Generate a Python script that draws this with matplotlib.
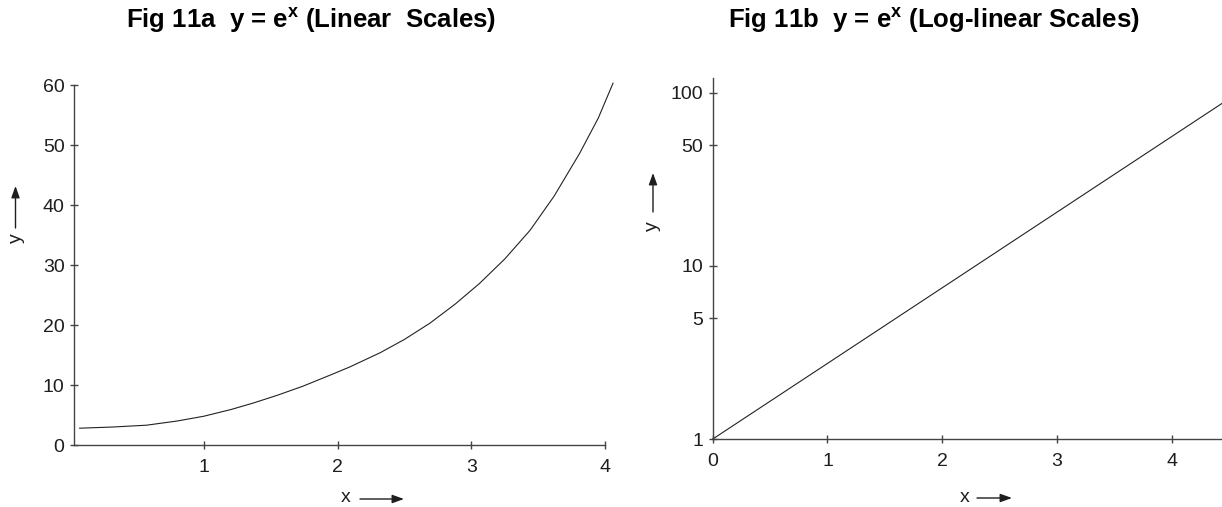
import matplotlib
matplotlib.use("Agg")
import matplotlib.pyplot as plt
from matplotlib.ticker import NullLocator

# ---- data ----
curve_x = [0.07, 0.32, 0.57, 0.80, 1.0, 1.2, 1.37, 1.55, 1.74, 1.95, 2.09, 2.32,
           2.50, 2.69, 2.88, 3.06, 3.25, 3.44, 3.62, 3.81, 3.95, 4.06]
curve_y = [2.8, 3.0, 3.3, 4.0, 4.8, 5.9, 7.0, 8.3, 9.8, 11.7, 13.0, 15.4,
           17.6, 20.3, 23.5, 26.9, 31.0, 35.8, 41.5, 48.6, 54.5, 60.3]

line_x = [0.0, 4.44]
line_y = [1.0, 87.0]

left_xticks = [1, 2, 3, 4]
left_yticks = [0, 10, 20, 30, 40, 50, 60]
right_xticks = [0, 1, 2, 3, 4]
right_yticks = [1, 5, 10, 50, 100]
right_ytick_labels = ["1", "5", "10", "50", "100"]

title_a = r"Fig 11a  y = $\mathbf{e^{x}}$ (Linear  Scales)"
title_b = r"Fig 11b  y = $\mathbf{e^{x}}$ (Log-linear Scales)"

# ---- style ----
plt.rcParams["font.family"] = ["Liberation Sans", "DejaVu Sans"]
plt.rcParams["mathtext.fontset"] = "custom"
plt.rcParams["mathtext.rm"] = "Liberation Sans"
plt.rcParams["mathtext.bf"] = "Liberation Sans:bold"
plt.rcParams["mathtext.it"] = "Liberation Sans:italic"

W, H = 1222, 507
TXT = "#1e1e1e"
AXC = "#444444"

fig = plt.figure(figsize=(W / 100, H / 100), dpi=100)


def fx(px):
    return px / W


def fy(py):
    return 1 - py / H


ax1 = fig.add_axes([fx(74.3), fy(445), (605 - 74.3) / W, (445 - 85) / H])
ax2 = fig.add_axes([fx(712.8), fy(439), (1222 - 712.8) / W, (439 - 78) / H])

for ax in (ax1, ax2):
    for s in ("top", "right"):
        ax.spines[s].set_visible(False)
    for s in ("left", "bottom"):
        ax.spines[s].set_color(AXC)
        ax.spines[s].set_linewidth(1.0)
    ax.tick_params(axis="both", direction="inout", length=6, width=1.0,
                   color=AXC, labelsize=14, labelcolor=TXT)
    ax.tick_params(axis="y", pad=4)
    ax.tick_params(axis="x", pad=7)
    ax.patch.set_visible(False)

# left: linear
ax1.plot(curve_x, curve_y, color="#222222", lw=0.8, clip_on=False)
ax1.set_xlim(0.03, 4.0)
ax1.set_ylim(0, 60)
ax1.set_xticks(left_xticks)
ax1.set_yticks(left_yticks)

# right: log-linear
ax2.plot(line_x, line_y, color="#222222", lw=0.8, clip_on=False)
ax2.set_yscale("log")
ax2.set_xlim(0, 4.44)
ax2.set_ylim(1, 122)
ax2.set_xticks(right_xticks)
ax2.set_yticks(right_yticks)
ax2.set_yticklabels(right_ytick_labels)
ax2.yaxis.set_minor_locator(NullLocator())

# titles
fig.text(fx(311), fy(20), title_a, ha="center", va="center",
         fontsize=18.5, fontweight="bold", color="black")
fig.text(fx(934), fy(20), title_b, ha="center", va="center",
         fontsize=18.5, fontweight="bold", color="black")

arrow_kw = dict(arrowstyle="-|>,head_length=0.5,head_width=0.18",
                color=TXT, lw=1.0, shrinkA=0, shrinkB=0)

# axis labels with arrows
fig.text(fx(346), fy(498), "x", ha="center", va="center", fontsize=14, color=TXT)
fig.add_artist(matplotlib.patches.FancyArrowPatch(
    (fx(360), fy(499)), (fx(404), fy(499)), transform=fig.transFigure,
    mutation_scale=14, **arrow_kw))
fig.text(fx(965), fy(497), "x", ha="center", va="center", fontsize=14, color=TXT)
fig.add_artist(matplotlib.patches.FancyArrowPatch(
    (fx(977), fy(498)), (fx(1012), fy(498)), transform=fig.transFigure,
    mutation_scale=14, **arrow_kw))

fig.text(fx(16), fy(238), "y", ha="center", va="center", fontsize=14,
         color=TXT, rotation=90)
fig.add_artist(matplotlib.patches.FancyArrowPatch(
    (fx(15.5), fy(228)), (fx(15.5), fy(186)), transform=fig.transFigure,
    mutation_scale=14, **arrow_kw))
fig.text(fx(652), fy(226), "y", ha="center", va="center", fontsize=14,
         color=TXT, rotation=90)
fig.add_artist(matplotlib.patches.FancyArrowPatch(
    (fx(653), fy(212)), (fx(653), fy(173)), transform=fig.transFigure,
    mutation_scale=14, **arrow_kw))

fig.savefig("out.png", dpi=100)
